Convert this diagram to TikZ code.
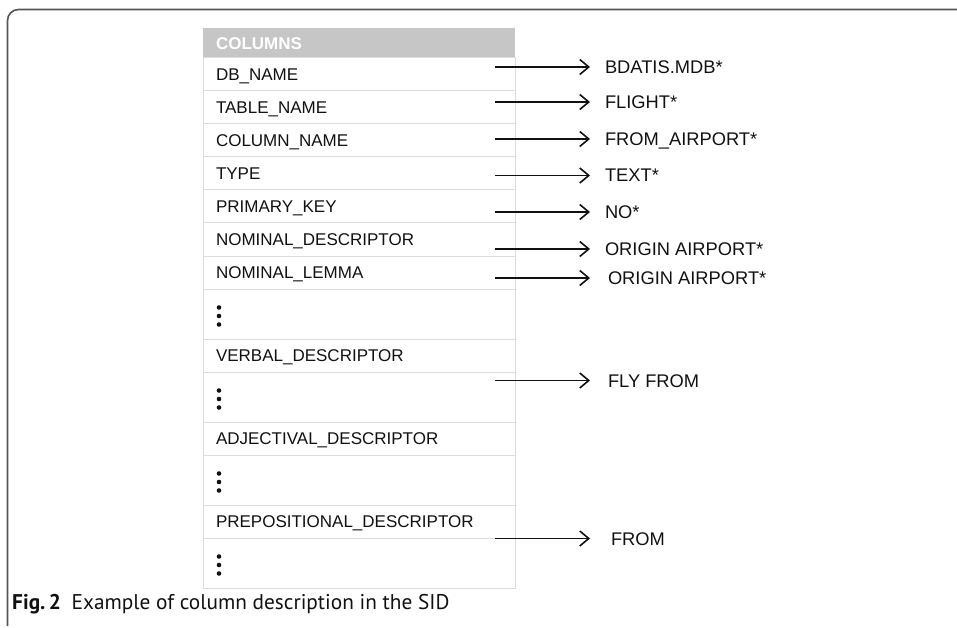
\documentclass[tikz,border=0pt]{standalone}
\usepackage{fontspec}
\setmainfont{Liberation Sans}
\newfontfamily\capfont{PT Sans}
\usetikzlibrary{arrows.meta}
\definecolor{hdrgray}{HTML}{C6C6C6}
\definecolor{rulegray}{HTML}{DCDCDC}
\definecolor{framegray}{HTML}{555555}
\definecolor{ink}{HTML}{111111}
\begin{document}
\begin{tikzpicture}[x=1pt,y=-1pt,
  cell/.style={draw=rulegray, line width=1pt, anchor=north west, outer sep=0pt,
    minimum width=312pt, text width=286pt, inner xsep=13pt, inner ysep=0pt,
    minimum height=33pt, align=left, text=ink,
    font=\fontsize{17}{20}\selectfont, text height=12.2pt, text depth=0pt},
  gapcell/.style={cell, minimum height=50pt},
  headcell/.style={cell, draw=none, fill=hdrgray, minimum height=30pt,
    text=white, font=\bfseries\fontsize{17}{20}\selectfont},
  valuelabel/.style={anchor=west, inner ysep=0pt, outer sep=0pt, text=ink,
    font=\fontsize{18.3}{22}\selectfont, text height=13pt, text depth=0pt},
  arr/.style={draw=ink, line width=1.6pt,
    -{Straight Barb[length=9pt,width=15pt,line width=1.6pt]}},
  dot/.style={fill=ink}
]
\useasboundingbox (0,0) rectangle (957,628);

% page frame: top and left rules with a rounded corner
\draw[framegray, line width=1.6pt, rounded corners=11pt]
  (960,9.5) -- (7.5,9.5) -- (7.5,626);

% table of column attributes
\node[headcell] (hd) at (203,28) {COLUMNS};
\node[cell] (r1) at (hd.south west) {DB\_NAME};
\node[cell] (r2) at (r1.south west) {TABLE\_NAME};
\node[cell] (r3) at (r2.south west) {COLUMN\_NAME};
\node[cell] (r4) at (r3.south west) {TYPE};
\node[cell] (r5) at (r4.south west) {PRIMARY\_KEY};
\node[cell] (r6) at (r5.south west) {NOMINAL\_DESCRIPTOR};
\node[cell] (r7) at (r6.south west) {NOMINAL\_LEMMA};
\node[gapcell] (g1) at (r7.south west) {};
\node[cell] (r8) at (g1.south west) {VERBAL\_DESCRIPTOR};
\node[gapcell] (g2) at (r8.south west) {};
\node[cell] (r9) at (g2.south west) {ADJECTIVAL\_DESCRIPTOR};
\node[gapcell] (g3) at (r9.south west) {};
\node[cell] (r10) at (g3.south west) {PREPOSITIONAL\_DESCRIPTOR};
\node[gapcell] (g4) at (r10.south west) {};

% vertical ellipsis in the gap rows
\foreach \g in {g1,g2,g3,g4}{
  \foreach \dy in {6.5,-2,-10.5}{
    \fill[dot] ([xshift=16pt,yshift=\dy pt]\g.west) circle (2.3pt);
  }
}

% values of the attributes
\node[valuelabel, inner xsep=15pt] (v1) at (590,67) {BDATIS.MDB*};
\node[valuelabel, inner xsep=15pt] (v2) at (590,102) {FLIGHT*};
\node[valuelabel, inner xsep=15pt] (v3) at (590,139) {FROM\_AIRPORT*};
\node[valuelabel, inner xsep=15pt] (v4) at (590,175.5) {TEXT*};
\node[valuelabel, inner xsep=15pt] (v5) at (590,212) {NO*};
\node[valuelabel, inner xsep=15pt] (v6) at (590,249) {ORIGIN AIRPORT*};
\node[valuelabel, inner xsep=18pt] (v7) at (590,278) {ORIGIN AIRPORT*};
\node[valuelabel, inner xsep=18pt] (v8) at (590,380.5) {FLY FROM};
\node[valuelabel, inner xsep=21pt] (v9) at (590,538.5) {FROM};

% arrow starts inside the table rows
\coordinate (s1) at (495,67);
\coordinate (s2) at (495,102);
\coordinate (s3) at (495,139);
\coordinate (s4) at (495,175.5);
\coordinate (s5) at (495,212);
\coordinate (s6) at (495,249);
\coordinate (s7) at (495,278);
\coordinate (s8) at (495,380.5);
\coordinate (s9) at (495,538.5);

\foreach \i in {1,...,9}{
  \draw[arr] (s\i) -- (v\i.west);
}

% caption
\node[anchor=west, inner sep=0pt, text=ink] (cap) at (12,604)
  {\capfont\fontsize{21.3}{25}\selectfont\textbf{Fig.\,2}\hspace{0.5em}Example of column description in the SID};
\end{tikzpicture}
\end{document}
